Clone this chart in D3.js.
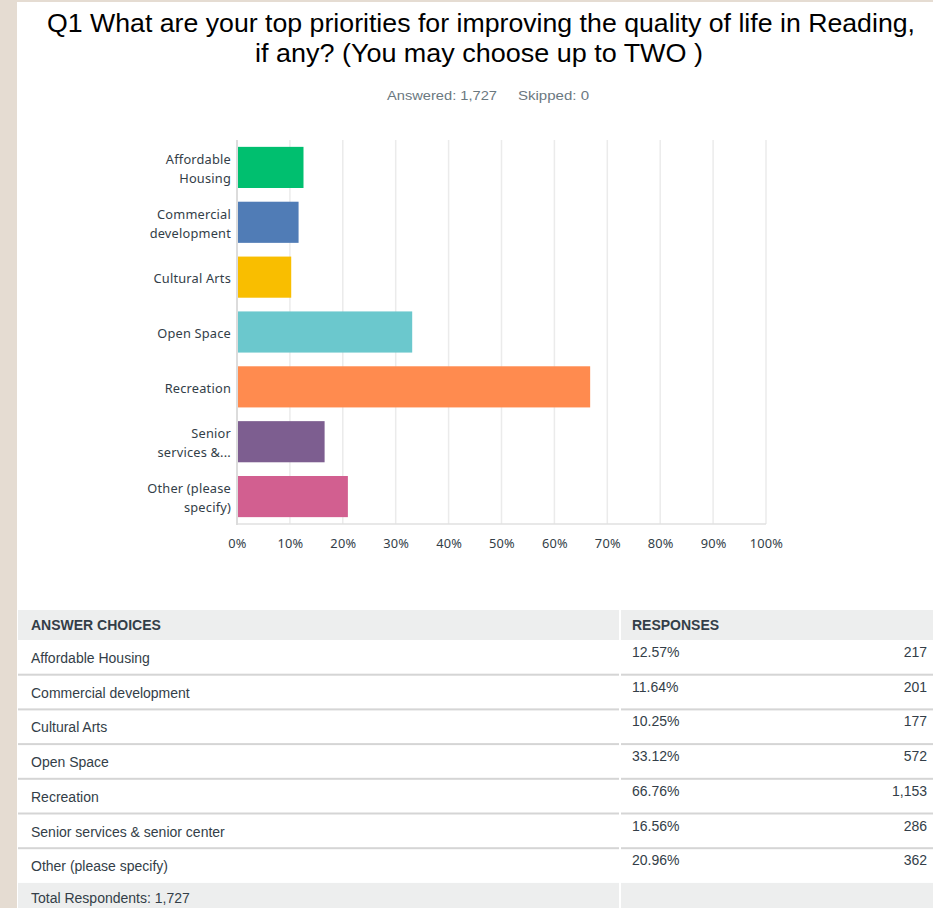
<!DOCTYPE html>
<html>
<head>
<meta charset="utf-8">
<script src="https://cdn.jsdelivr.net/npm/d3@7"></script>
<style>
  html, body { margin: 0; padding: 0; background: #fff; }
  svg { display: block; }
</style>
</head>
<body>
<svg id="chart" width="933" height="908"></svg>
<script>
// Survey question Q1 — answer choices, share of respondents and counts
const choices = [
  "Affordable Housing",
  "Commercial development",
  "Cultural Arts",
  "Open Space",
  "Recreation",
  "Senior services & senior center",
  "Other (please specify)"
];
const axisLabels = [
  ["Affordable", "Housing"],
  ["Commercial", "development"],
  ["Cultural Arts"],
  ["Open Space"],
  ["Recreation"],
  ["Senior", "services &..."],
  ["Other (please", "specify)"]
];
const percents = [12.57, 11.64, 10.25, 33.12, 66.76, 16.56, 20.96];
const counts = [217, 201, 177, 572, 1153, 286, 362];
const colors = ["#00bf6f", "#507cb6", "#f9be00", "#6bc8cd", "#ff8b4f", "#7d5e90", "#d25f90"];
const xTicks = [0, 10, 20, 30, 40, 50, 60, 70, 80, 90, 100];
const answered = 1727;
const skipped = 0;

const svg = d3.select("#chart");
const W = 933, H = 908;

// page frame
svg.append("rect").attr("width", W).attr("height", H).attr("fill", "#ffffff");
svg.append("rect").attr("x", 0).attr("y", 0).attr("width", 17).attr("height", H).attr("fill", "#e5dcd2");
svg.append("rect").attr("x", 0).attr("y", 0).attr("width", W).attr("height", 2).attr("fill", "#e5dcd2");

// title
const title = svg.append("g")
  .attr("font-family", "'Liberation Sans', Arial, sans-serif")
  .attr("fill", "#000")
  .attr("text-anchor", "middle");
title.append("text").attr("x", 481).attr("y", 32).attr("font-size", 26)
  .attr("textLength", 868).attr("lengthAdjust", "spacingAndGlyphs")
  .text("Q1 What are your top priorities for improving the quality of life in Reading,");
title.append("text").attr("x", 479).attr("y", 62).attr("font-size", 26)
  .attr("textLength", 448).attr("lengthAdjust", "spacingAndGlyphs")
  .text("if any? (You may choose up to TWO )");

const fmtInt = d3.format(",");
const meta = svg.append("g")
  .attr("font-family", "'Liberation Sans', Arial, sans-serif")
  .attr("font-size", 13.5)
  .attr("fill", "#6b787f");
meta.append("text").attr("x", 387).attr("y", 100)
  .attr("textLength", 110).attr("lengthAdjust", "spacingAndGlyphs")
  .text("Answered: " + fmtInt(answered));
meta.append("text").attr("x", 518).attr("y", 100)
  .attr("textLength", 71).attr("lengthAdjust", "spacingAndGlyphs")
  .text("Skipped: " + skipped);

// bar chart
const x = d3.scaleLinear().domain([0, 100]).range([237, 766]);
const y = d3.scaleBand().domain(choices).range([140, 524]).paddingInner(0.25).paddingOuter(0.125);

const chart = svg.append("g");

// vertical gridlines
chart.append("g").selectAll("line").data(xTicks.filter(d => d > 0)).join("line")
  .attr("x1", d => x(d)).attr("x2", d => x(d))
  .attr("y1", 140).attr("y2", 524)
  .attr("stroke", "#ebebeb").attr("stroke-width", 1.5);

// baseline and zero line
chart.append("line").attr("x1", x(0)).attr("x2", x(100)).attr("y1", 524).attr("y2", 524)
  .attr("stroke", "#e0e0e0").attr("stroke-width", 1.5);
chart.append("line").attr("x1", x(0)).attr("x2", x(0)).attr("y1", 140).attr("y2", 525)
  .attr("stroke", "#dcdcdc").attr("stroke-width", 2);

// bars
chart.append("g").selectAll("rect").data(choices).join("rect")
  .attr("x", x(0) + 1)
  .attr("y", d => y(d))
  .attr("width", (d, i) => x(percents[i]) - x(0) - 1)
  .attr("height", y.bandwidth())
  .attr("fill", (d, i) => colors[i]);

// category labels
const labelFont = "'Noto Sans', 'Open Sans', sans-serif";
const lbl = chart.append("g")
  .attr("font-family", labelFont)
  .attr("font-size", 12.8)
  .attr("letter-spacing", 0.2)
  .attr("fill", "#333e48")
  .attr("text-anchor", "end");
choices.forEach((c, i) => {
  const lines = axisLabels[i];
  const cy = y(c) + y.bandwidth() / 2 + 1.5;
  const lh = 19;
  const t = lbl.append("text").attr("x", 231);
  lines.forEach((ln, j) => {
    t.append("tspan")
      .attr("x", 231)
      .attr("y", cy + (j - (lines.length - 1) / 2) * lh)
      .attr("dy", "0.35em")
      .text(ln);
  });
});

// x-axis tick labels
const xAxis = d3.axisBottom(x).tickValues(xTicks).tickSize(0).tickPadding(0).tickFormat(d => d + "%");
const ax = chart.append("g").attr("transform", "translate(0,538.5)").call(xAxis);
ax.select(".domain").remove();
ax.selectAll("text")
  .attr("font-family", labelFont)
  .attr("font-size", 12.8)
  .attr("letter-spacing", 0.2)
  .attr("fill", "#333e48");

// summary table
const tbl = svg.append("g").attr("font-family", "'Liberation Sans', Arial, sans-serif").attr("font-size", 14);
const tLeft = 18, tRight = W, colSplit = 619;
const headTop = 610, headH = 30;
const rowH = 34.7;
const rowY = d3.scaleBand().domain(choices).range([headTop + headH, headTop + headH + rowH * choices.length]);

// header
tbl.append("rect").attr("x", tLeft).attr("y", headTop).attr("width", colSplit - tLeft).attr("height", headH).attr("fill", "#edeeee");
tbl.append("rect").attr("x", colSplit + 2).attr("y", headTop).attr("width", tRight - colSplit - 2).attr("height", headH).attr("fill", "#edeeee");
tbl.append("text").attr("x", 31).attr("y", 630).attr("font-weight", "bold").attr("fill", "#333e48").text("ANSWER CHOICES");
tbl.append("text").attr("x", 632).attr("y", 630).attr("font-weight", "bold").attr("fill", "#333e48").text("RESPONSES");

// rows
const fmtPct = d3.format(".2f");
choices.forEach((c, i) => {
  const top = rowY(c);
  const bottom = top + rowH;
  tbl.append("text").attr("x", 31).attr("y", top + 23).attr("fill", "#333e48").text(c);
  tbl.append("text").attr("x", 632).attr("y", top + 17).attr("fill", "#333e48").text(fmtPct(percents[i]) + "%");
  tbl.append("text").attr("x", 927).attr("y", top + 17).attr("text-anchor", "end").attr("fill", "#333e48").text(fmtInt(counts[i]));
  if (i < choices.length - 1) {
    tbl.append("rect").attr("x", tLeft).attr("y", bottom - 1).attr("width", colSplit - tLeft).attr("height", 2).attr("fill", "#d5d5d5");
    tbl.append("rect").attr("x", colSplit + 2).attr("y", bottom - 1).attr("width", tRight - colSplit - 2).attr("height", 2).attr("fill", "#d5d5d5");
  }
});

// footer
const footTop = headTop + headH + rowH * choices.length;
tbl.append("rect").attr("x", tLeft).attr("y", footTop).attr("width", colSplit - tLeft).attr("height", H - footTop).attr("fill", "#edeeee");
tbl.append("rect").attr("x", colSplit + 2).attr("y", footTop).attr("width", tRight - colSplit - 2).attr("height", H - footTop).attr("fill", "#edeeee");
tbl.append("text").attr("x", 31).attr("y", footTop + 20).attr("fill", "#333e48").text("Total Respondents: " + fmtInt(answered));
</script>
</body>
</html>
